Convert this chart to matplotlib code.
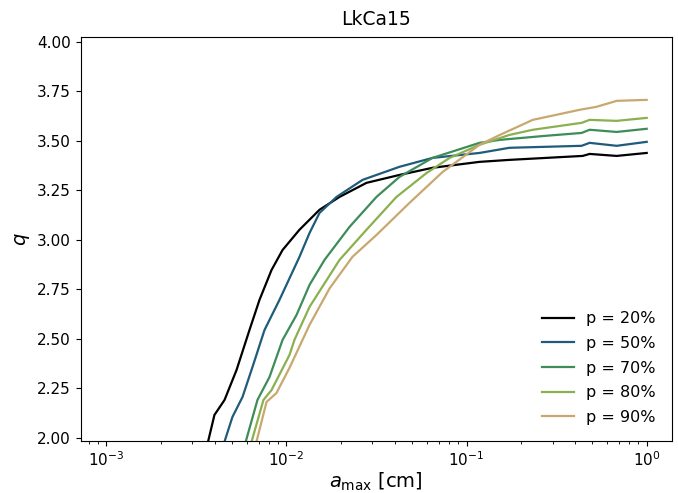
import matplotlib
matplotlib.use("Agg")
import matplotlib.pyplot as plt

# p = 20%
x20 = [3.60e-3, 3.98e-3, 4.53e-3, 5.28e-3, 6.23e-3, 7.08e-3, 8.26e-3, 9.51e-3, 0.0118, 0.01525,
       0.0197, 0.0278, 0.0424, 0.0647, 0.118, 0.173, 0.441, 0.482, 0.681, 1.0]
q20 = [1.95, 2.116, 2.192, 2.343, 2.545, 2.697, 2.848, 2.949, 3.051, 3.152,
       3.217, 3.288, 3.328, 3.364, 3.394, 3.404, 3.424, 3.434, 3.424, 3.439]

# p = 50%
x50 = [4.45e-3, 5.01e-3, 5.70e-3, 6.48e-3, 7.55e-3, 9.14e-3, 0.0118, 0.01343, 0.01525, 0.01897,
       0.02644, 0.0424, 0.0647, 0.118, 0.173, 0.435, 0.482, 0.681, 1.0]
q50 = [1.96, 2.106, 2.207, 2.359, 2.545, 2.697, 2.914, 3.035, 3.136, 3.217,
       3.303, 3.369, 3.414, 3.439, 3.465, 3.475, 3.490, 3.475, 3.495]

# p = 70%
x70 = [5.85e-3, 6.90e-3, 8.05e-3, 9.51e-3, 0.01137, 0.01343, 0.01626, 0.0224, 0.0316, 0.0424,
       0.0647, 0.118, 0.153, 0.271, 0.435, 0.482, 0.681, 1.0]
q70 = [1.96, 2.192, 2.308, 2.495, 2.621, 2.773, 2.899, 3.066, 3.217, 3.318,
       3.414, 3.490, 3.505, 3.525, 3.540, 3.556, 3.545, 3.561]

# p = 80%
x80 = [6.30e-3, 7.45e-3, 8.26e-3, 0.01039, 0.01107, 0.01343, 0.0197, 0.0278, 0.0408, 0.060,
       0.0805, 0.118, 0.173, 0.233, 0.435, 0.482, 0.681, 1.0]
q80 = [1.96, 2.192, 2.242, 2.419, 2.495, 2.662, 2.899, 3.051, 3.217, 3.338,
       3.414, 3.480, 3.530, 3.556, 3.591, 3.606, 3.601, 3.616]

# p = 90%
x90 = [6.72e-3, 7.75e-3, 8.80e-3, 0.01039, 0.01343, 0.01734, 0.02327, 0.0316, 0.0482, 0.0736, 0.118,
       0.153, 0.233, 0.425, 0.527, 0.681, 1.0]
q90 = [1.96, 2.182, 2.227, 2.354, 2.571, 2.755, 2.915, 3.025, 3.187, 3.343, 3.480,
       3.530, 3.606, 3.657, 3.672, 3.702, 3.707]

labels = ["p = 20%", "p = 50%", "p = 70%", "p = 80%", "p = 90%"]
colors = ["#000000", "#1f5b7a", "#3d8c5a", "#8ab050", "#c8a86e"]

fig = plt.figure(figsize=(6.78, 4.93), dpi=100)
ax = fig.add_axes([0.119, 0.106, 0.872, 0.818])

for xs, qs, lab, c in zip([x20, x50, x70, x80, x90], [q20, q50, q70, q80, q90], labels, colors):
    ax.plot(xs, qs, color=c, lw=1.6, label=lab)

ax.set_xscale("log")
ax.set_xlim(7.2e-4, 1.38)
ax.set_ylim(1.986, 4.022)
yt = [2.0, 2.25, 2.5, 2.75, 3.0, 3.25, 3.5, 3.75, 4.0]
ax.set_yticks(yt)
ax.set_yticklabels([f"{v:.2f}" for v in yt])
ax.tick_params(labelsize=11)
ax.set_xlabel(r"$a_\mathrm{max}$ [cm]", fontsize=14, labelpad=1)
ax.set_ylabel(r"$q$", fontsize=14)
ax.set_title("LkCa15", fontsize=13.5, pad=9)
ax.legend(loc="lower right", frameon=False, fontsize=11.5, handlelength=2.0,
          labelspacing=0.6, borderaxespad=0.6)

fig.savefig("out.png", dpi=100)
